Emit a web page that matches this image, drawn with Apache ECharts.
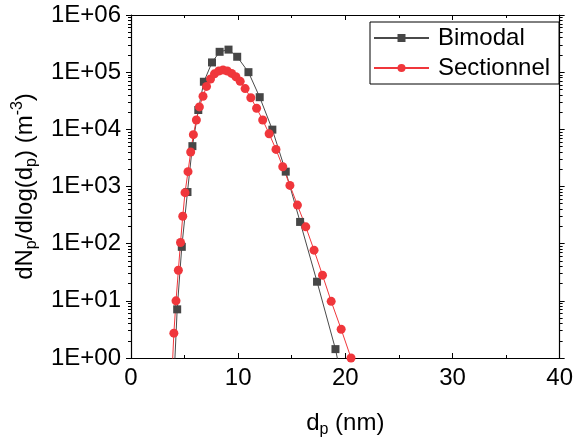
<!DOCTYPE html>
<html>
<head>
<meta charset="utf-8">
<script src="https://cdn.jsdelivr.net/npm/echarts@6/dist/echarts.min.js"></script>
<style>html,body{margin:0;padding:0;background:#fff;}#c{width:576px;height:443px;}</style>
</head>
<body>
<div id="c"></div>
<script>
// Bimodal series (d_p in nm, dN/dlog(dp) in m^-3)
var bimodalX = [3.93, 4.31, 4.74, 5.27, 5.73, 6.28, 6.80, 7.56, 8.27, 9.10, 9.91, 10.96, 12.01, 13.19, 14.44, 15.78, 17.36, 19.08, 20.92];
var bimodalY = [0.2, 7.1, 88, 800, 5080, 21800, 68000, 148000, 227000, 248000, 186000, 100000, 36500, 9880, 1820, 240, 21.6, 1.43, 0.03];
// Sectionnel series
var sectX = [3.82, 4.00, 4.20, 4.42, 4.62, 4.83, 5.04, 5.32, 5.57, 5.82, 6.10, 6.38, 6.72, 7.05, 7.42, 7.79, 8.19, 8.59, 8.99, 9.39, 9.79, 10.19, 10.65, 11.18, 11.72, 12.29, 12.89, 13.53, 14.16, 14.83, 15.53, 16.31, 17.08, 17.87, 18.68, 19.61, 20.53];
var sectY = [0.5, 2.72, 10.0, 34.2, 105, 302, 780, 1816, 4010, 8070, 14550, 24700, 37900, 56400, 75900, 93500, 105000, 109500, 105000, 95000, 83000, 69200, 51600, 35700, 23400, 14550, 8370, 4450, 2220, 1045, 473, 197, 77, 28.1, 9.8, 3.19, 1.0];
// Tick values
var yMajor = [1, 10, 100, 1000, 10000, 100000, 1000000];
var yMinorMult = [2, 3, 4, 5, 6, 7, 8, 9];
var xTickInterval = 10;

var yMinor = [];
for (var k = 0; k < yMajor.length - 1; k++) {
  for (var m = 0; m < yMinorMult.length; m++) yMinor.push(yMinorMult[m] * yMajor[k]);
}
function pairs(xs, ys) { return xs.map(function (x, i) { return [x, ys[i]]; }); }

var FONT = 'Arial, "Liberation Sans", sans-serif';
var black = '#000';

function yAx(pos, major, labels, inside) {
  return {
    type: 'log', logBase: 10, min: 1, max: 1000000, position: pos,
    axisLine: { show: major, lineStyle: { color: black, width: 1.2 } },
    splitLine: { show: false },
    axisTick: { show: true, inside: inside, length: major ? 5 : 3, customValues: major ? yMajor : yMinor, lineStyle: { color: black, width: 1 } },
    minorTick: { show: false },
    axisLabel: labels ? {
      show: true, customValues: yMajor, margin: 10, fontSize: 24, color: black, fontFamily: FONT,
      formatter: function (v) { var e = Math.round(Math.log10(v)); return '1E+' + (e < 10 ? '0' : '') + e; }
    } : { show: false }
  };
}

var chart = echarts.init(document.getElementById('c'), null, { renderer: 'canvas' });
chart.setOption({
  animation: false,
  backgroundColor: '#fff',
  grid: { left: 131, right: 12, top: 15, bottom: 79, containLabel: false },
  legend: {
    left: 370, top: 22, orient: 'vertical',
    borderColor: black, borderWidth: 1, padding: [3, 9, 3, 3],
    itemWidth: 55, itemHeight: 10, itemGap: 4,
    textStyle: { fontSize: 24, color: black, fontFamily: FONT, lineHeight: 26, padding: [0, 0, 0, 4] },
    data: ['Bimodal', 'Sectionnel']
  },
  xAxis: [
    {
      type: 'value', min: 0, max: 40, interval: xTickInterval, position: 'bottom',
      axisLine: { lineStyle: { color: black, width: 1.2 } },
      splitLine: { show: false },
      axisTick: { inside: true, length: 5, lineStyle: { color: black } },
      minorTick: { show: true, splitNumber: 2, length: 3, lineStyle: { color: black } },
      axisLabel: { fontSize: 24, color: black, fontFamily: FONT, margin: 8 },
      name: '{t|d}{s|p}{t| (nm)}', nameLocation: 'middle', nameGap: 50,
      nameTextStyle: {
        fontFamily: FONT, color: black,
        rich: {
          t: { fontSize: 24, lineHeight: 30, fontFamily: FONT, color: black },
          s: { fontSize: 16, lineHeight: 16, verticalAlign: 'bottom', fontFamily: FONT, color: black }
        }
      }
    },
    {
      type: 'value', min: 0, max: 40, interval: xTickInterval, position: 'top',
      axisLine: { lineStyle: { color: black, width: 1.2 } },
      splitLine: { show: false },
      axisTick: { inside: true, length: 5, lineStyle: { color: black } },
      minorTick: { show: true, splitNumber: 2, length: 3, lineStyle: { color: black } },
      axisLabel: { show: false }
    }
  ],
  yAxis: [
    Object.assign(yAx('left', true, true, false), {
      name: '{t|dN}{s|p}{t|/dlog(d}{s|p}{t|) (m}{u|-3}{t|)}', nameLocation: 'middle', nameGap: 82,
      nameTextStyle: {
        fontFamily: FONT, color: black,
        rich: {
          t: { fontSize: 24, lineHeight: 30, fontFamily: FONT, color: black },
          s: { fontSize: 16, lineHeight: 16, verticalAlign: 'bottom', fontFamily: FONT, color: black },
          u: { fontSize: 16, lineHeight: 16, verticalAlign: 'top', fontFamily: FONT, color: black }
        }
      }
    }),
    yAx('left', false, false, false),
    yAx('right', true, false, false),
    yAx('right', false, false, false)
  ],
  series: [
    {
      name: 'Bimodal', type: 'line', xAxisIndex: 0, yAxisIndex: 0,
      data: pairs(bimodalX, bimodalY),
      symbol: 'rect', symbolSize: 8, clip: true,
      itemStyle: { color: '#464646' },
      lineStyle: { color: '#4a4a4a', width: 1 }
    },
    {
      name: 'Sectionnel', type: 'line', xAxisIndex: 0, yAxisIndex: 0,
      data: pairs(sectX, sectY),
      symbol: 'circle', symbolSize: 9, clip: true,
      itemStyle: { color: '#f0363b' },
      lineStyle: { color: '#f0363b', width: 1 }
    }
  ]
});
</script>
</body>
</html>
